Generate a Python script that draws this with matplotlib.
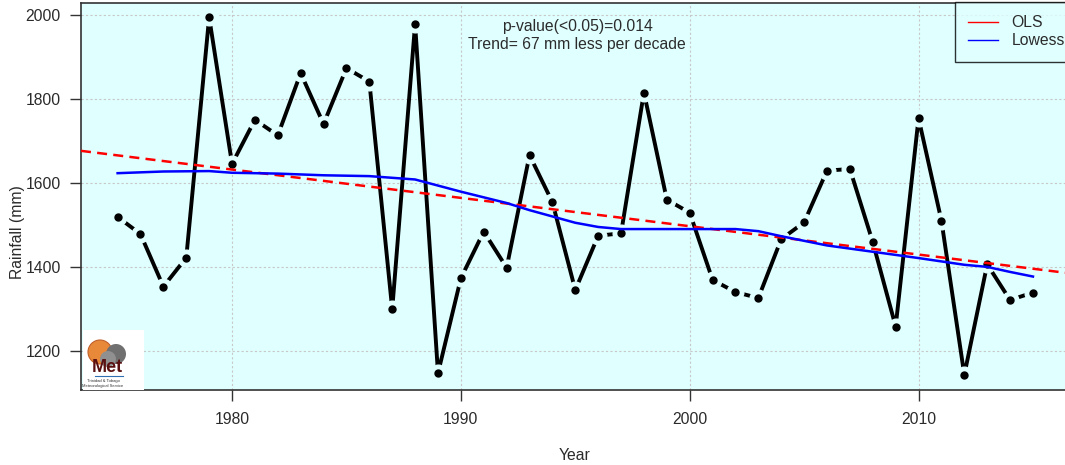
import numpy as np
import matplotlib.pyplot as plt
from matplotlib.patches import Rectangle, Circle

# ========================
# Dados
# ========================
years = np.arange(1975, 2016)
rainfall = [1519, 1478, 1353, 1422, 1994, 1645, 1750, 1713, 1861, 1740,
            1873, 1841, 1299, 1978, 1147, 1373, 1484, 1398, 1666, 1554,
            1345, 1474, 1480, 1815, 1560, 1529, 1369, 1340, 1326, 1466,
            1506, 1629, 1633, 1459, 1258, 1754, 1510, 1143, 1406, 1321,
            1339]

lowess_years = [1975, 1977, 1979, 1980, 1982, 1984, 1986, 1988, 1990, 1992,
                1993, 1994, 1995, 1996, 1997, 1998, 2000, 2002, 2003, 2004,
                2006, 2008, 2010, 2012, 2013, 2014, 2015]
lowess_vals = [1623, 1627, 1628, 1624, 1622, 1618, 1616, 1608, 1579, 1552,
               1535, 1520, 1505, 1495, 1490, 1490, 1490, 1490, 1485, 1473,
               1451, 1436, 1421, 1405, 1400, 1388, 1377]

xticks = [1980, 1990, 2000, 2010]
yticks = [1200, 1400, 1600, 1800, 2000]

txt_color = "#2b2b2b"
bg = "#E0FFFF"
fs = 11.3

plt.rcParams['font.family'] = ['Liberation Sans', 'DejaVu Sans']

fig = plt.figure(figsize=(10.65, 4.65), dpi=100)
ax = fig.add_axes([81/1065, 75/465, 1 - 81/1065, 387/465])
ax.set_facecolor(bg)

x0, x1 = 1973.4, 2016.4
ax.set_xlim(x0, x1)
ax.set_ylim(1107, 2028)

# grade pontilhada
for xt in xticks:
    ax.axvline(xt, color="#C8C8C8", lw=0.8, ls=(0, (2, 2)), zorder=1)
for yt in yticks:
    ax.axhline(yt, color="#C8C8C8", lw=0.8, ls=(0, (2, 2)), zorder=1)

# série tipo "b" do R: linha com falhas em volta dos pontos
ax.plot(years, rainfall, color="black", lw=2.8, zorder=2, solid_capstyle="butt")
ax.plot(years, rainfall, ls="none", marker="o", ms=12, mfc=bg, mec=bg, zorder=3)
ax.plot(years, rainfall, ls="none", marker="o", ms=5, mfc="black", mec="black", zorder=4)

# tendência OLS
coef = np.polyfit(years, rainfall, 1)
xx = np.array([x0, x1])
ax.plot(xx, np.polyval(coef, xx), color="red", lw=1.8, dashes=(4, 2.5), zorder=5)

# lowess
ax.plot(lowess_years, lowess_vals, color="blue", lw=1.8, zorder=5)

ax.set_xticks(xticks)
ax.set_yticks(yticks)
ax.tick_params(axis="both", direction="out", length=8, width=1, color="#333333",
               labelsize=fs, labelcolor=txt_color)
ax.tick_params(axis="y", pad=6.5)
ax.tick_params(axis="x", pad=8)
for s in ["left", "bottom", "top"]:
    ax.spines[s].set_color("#333333")
    ax.spines[s].set_linewidth(1.2)
ax.spines["right"].set_visible(False)

fig.text(18/1065, 1 - 232/465, "Rainfall (mm)", rotation=90, ha="center", va="center",
         fontsize=fs, color=txt_color)
fig.text(575/1065, 1 - 455/465, "Year", ha="center", va="center",
         fontsize=fs, color=txt_color)

fig.text(577/1065, 1 - 27/465, "p-value(<0.05)=0.014", ha="center", va="center",
         fontsize=fs, color=txt_color)
fig.text(577/1065, 1 - 45/465, "Trend= 67 mm less per decade", ha="center", va="center",
         fontsize=fs, color=txt_color)

leg_ols, = ax.plot([], [], color="red", lw=1)
leg_low, = ax.plot([], [], color="blue", lw=1)
leg = fig.legend([leg_ols, leg_low], ["OLS", "Lowess"], loc="upper left",
                 bbox_to_anchor=(955/1065, 1 - 2/465), frameon=True, fancybox=False,
                 fontsize=fs, handlelength=1.9, borderpad=0.85, labelspacing=0.2,
                 handletextpad=0.85, borderaxespad=0)
leg.get_frame().set_edgecolor("black")
leg.get_frame().set_facecolor(bg)
leg.get_frame().set_linewidth(1)
for t in leg.get_texts():
    t.set_color(txt_color)

# logo (aproximação simples)
lx, ly, lw_, lh = 83/1065, 75/465, 61/1065, 60/465
fig.patches.append(Rectangle((lx, ly), lw_, lh, transform=fig.transFigure,
                             facecolor="white", edgecolor="none", zorder=6))
logo = fig.add_axes([lx, ly, lw_, lh], zorder=7)
logo.set_xlim(0, 61)
logo.set_ylim(0, 60)
logo.axis("off")
logo.add_patch(Circle((17, 38), 12, facecolor="#E8893A", edgecolor="#C0602A", lw=0.8))
logo.add_patch(Circle((33, 36), 10, facecolor="#707070", edgecolor="none"))
logo.add_patch(Circle((25, 31), 8, facecolor="#909090", edgecolor="none"))
logo.text(24, 23, "Met", fontsize=13, fontweight="bold", color="#5A1010",
          ha="center", va="center")
logo.plot([12, 40], [14, 14], color="#3070B0", lw=0.8)
logo.text(20, 8, "Trinidad & Tobago", fontsize=3, color="#333333", ha="center")
logo.text(20, 3, "Meteorological Service", fontsize=3, color="#333333", ha="center")

fig.savefig("out.png", dpi=100)
